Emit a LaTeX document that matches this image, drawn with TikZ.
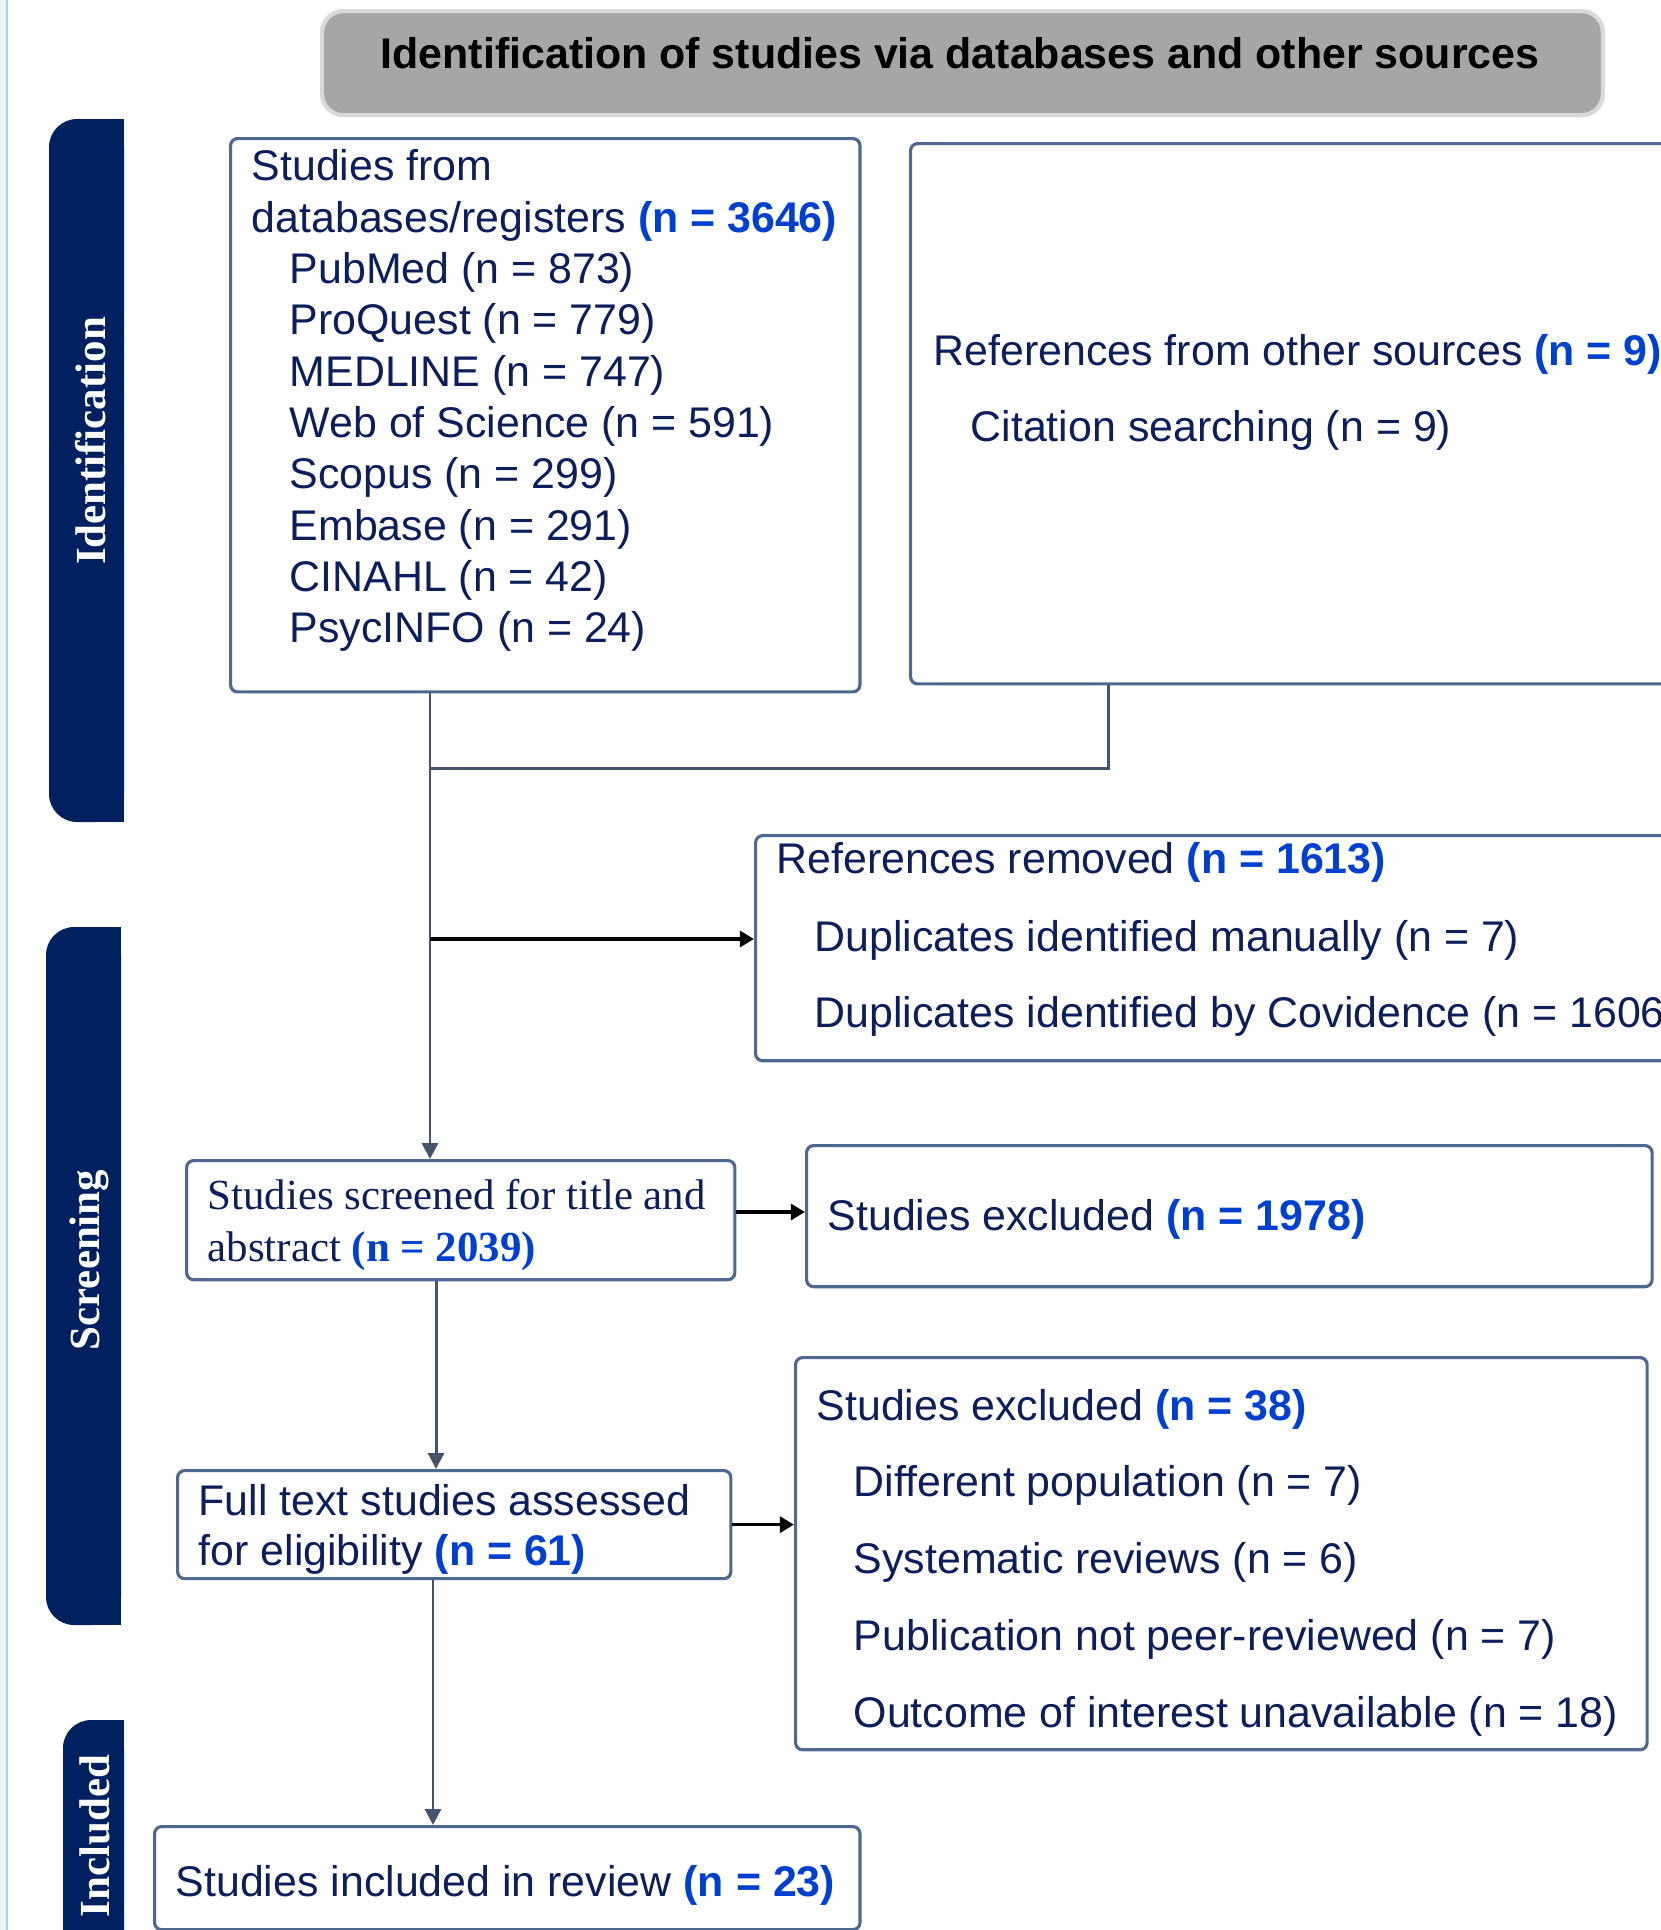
\documentclass[tikz,border=0pt]{standalone}
\usepackage{fontspec}
\setmainfont{Liberation Sans}
\newfontfamily\serifface{Liberation Serif}
\usetikzlibrary{positioning,arrows.meta}

\definecolor{barnavy}{HTML}{002060}
\definecolor{txtnavy}{HTML}{0C1F5C}
\definecolor{nblue}{HTML}{0040D0}
\definecolor{boxline}{HTML}{4E6890}
\definecolor{connline}{HTML}{44546A}
\definecolor{hdrgray}{HTML}{A6A6A6}
\definecolor{hdrline}{HTML}{D9D9D9}
\definecolor{edgeblue}{HTML}{A9CFF2}
\definecolor{edgefill}{HTML}{E8F5FD}

\newcommand{\nval}[1]{\textcolor{nblue}{\textbf{#1}}}

\begin{document}
\begin{tikzpicture}[x=0.01cm, y=-0.01cm,
  box/.style={draw=boxline, line width=0.9pt, rounded corners=2pt, fill=white, anchor=north west, inner sep=0pt},
  lbl/.style={anchor=west, inner sep=0pt, text height=1.6ex, text depth=0.35ex, text=txtnavy, font=\fontsize{12.2}{14}\selectfont},
  slbl/.style={lbl, font=\fontsize{12.2}{14}\selectfont\serifface},
  sidelbl/.style={rotate=90, inner sep=0pt, text=white, font=\fontsize{12.2}{14}\selectfont\serifface\bfseries},
  conn/.style={draw=connline, line width=0.85pt},
  garrow/.style={conn, -{Triangle[width=4.5pt,length=4.5pt]}},
  blk/.style={draw=black, line width=1pt, -{Triangle[width=4.5pt,length=4pt]}},
]

    % 画布范围
    \useasboundingbox (0,0) rectangle (1661,1930);
    \clip (0,0) rectangle (1661,1930);

    % 左侧边线
    \fill[edgefill] (0,0) rectangle (7,1930);
    \draw[edgeblue, line width=0.6pt] (7,0) -- (7,1930);

    % 标题框
    \node[anchor=north west, minimum width=12.80cm, minimum height=1.04cm, fill=hdrgray, draw=hdrline, line width=1.2pt, rounded corners=6pt] (hdr) at (320,9) {};
    \node[font=\fontsize{12.2}{14}\selectfont\bfseries] (hdrtext) at (960,53) {Identification of studies via databases and other sources};

    % 左侧阶段栏
    \fill[barnavy, rounded corners=8pt] (49,119) rectangle (124,822);
    \fill[barnavy] (90,119) rectangle (124,822);
    \fill[barnavy, rounded corners=8pt] (46,927) rectangle (121,1625);
    \fill[barnavy] (90,927) rectangle (121,1625);
    \fill[barnavy, rounded corners=8pt] (63,1720) rectangle (124,1960);
    \fill[barnavy] (95,1720) rectangle (124,1960);
    \node[sidelbl] (idbar) at (91,441) {Identification};
    \node[sidelbl] (scbar) at (89,1260) {Screening};
    \node[sidelbl] (inbar) at (95,1836) {Included};

    % 各个方框
    \node[box, minimum width=6.29cm, minimum height=5.53cm] (db) at (229,137) {};
    \node[box, minimum width=8.00cm, minimum height=5.40cm] (other) at (909,142) {};
    \node[box, minimum width=9.50cm, minimum height=2.25cm] (removed) at (754,834) {};
    \node[box, minimum width=5.48cm, minimum height=1.19cm] (screen) at (185,1159) {};
    \node[box, minimum width=8.45cm, minimum height=1.41cm] (excl1) at (805,1144) {};
    \node[box, minimum width=5.53cm, minimum height=1.08cm] (full) at (176,1469) {};
    \node[box, minimum width=8.51cm, minimum height=3.92cm] (excl2) at (794,1356) {};
    \node[box, minimum width=7.05cm, minimum height=1.03cm] (incl) at (153,1825) {};

    % 数据库文字
    \node[lbl] (dbhead) at (251,169) {Studies from};
    \node[lbl] (dbtotal) at (251,221) {databases/registers \nval{(n = 3646)}};
    \foreach \src/\num [count=\i from 0] in {PubMed/873, ProQuest/779, MEDLINE/747, Web of Science/591, Scopus/299, Embase/291, CINAHL/42, PsycINFO/24}
        \node[lbl] (src\i) at (289,{272+51.3*\i}) {\src\ (n = \num)};

    % 其他来源文字
    \node[lbl] (othhead) at (933,354) {References from other sources \nval{(n = 9)}};
    \node[lbl] (othcite) at (970,430) {Citation searching (n = 9)};

    % 去重文字
    \node[lbl] (rmvhead) at (776,862) {References removed \nval{(n = 1613)}};
    \node[lbl] (rmvman) at (814,940) {Duplicates identified manually (n = 7)};
    \node[lbl] (rmvcov) at (814,1016) {Duplicates identified by Covidence (n = 1606)};

    % 筛选文字
    \node[slbl] (scr1) at (207,1198) {Studies screened for title and};
    \node[slbl] (scr2) at (207,1250) {abstract \nval{(n = 2039)}};
    \node[lbl] (exc1) at (827,1219) {Studies excluded \nval{(n = 1978)}};

    % 全文评估文字
    \node[lbl] (ful1) at (198,1504) {Full text studies assessed};
    \node[lbl] (ful2) at (198,1554) {for eligibility \nval{(n = 61)}};
    \node[lbl] (exc2) at (816,1409) {Studies excluded \nval{(n = 38)}};
    \foreach \why/\num [count=\i from 0] in {Different population/7, Systematic reviews/6, Publication not peer-reviewed/7, Outcome of interest unavailable/18}
        \node[lbl] (why\i) at (853,{1485+77*\i}) {\why\ (n = \num)};

    % 纳入文字
    \node[lbl] (inc) at (175,1885) {Studies included in review \nval{(n = 23)}};

    % 连接线
    \coordinate (trunk) at (430,0);
    \coordinate (trunkb) at (436,0);
    \coordinate (trunkc) at (433,0);
    \coordinate (othdrop) at (1108,768);
    \coordinate (rmvfork) at (430,939);
    \coordinate (exrow) at (0,1212);
    \draw[garrow] (db.south -| trunk) -- (screen.north -| trunk);
    \draw[conn] (other.south -| othdrop) -- (othdrop) -- (othdrop -| trunk);
    \draw[blk] (rmvfork) -- (rmvfork -| removed.west);
    \draw[blk] (screen.east |- exrow) -- (excl1.west |- exrow);
    \draw[garrow] (screen.south -| trunkb) -- (full.north -| trunkb);
    \draw[blk] (full.east) -- (full.east -| excl2.west);
    \draw[garrow] (full.south -| trunkc) -- (incl.north -| trunkc);
\end{tikzpicture}
\end{document}
